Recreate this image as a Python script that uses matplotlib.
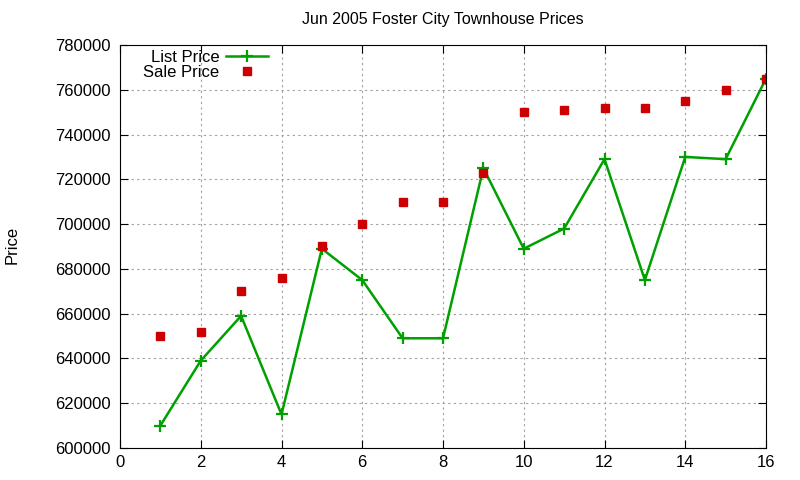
import matplotlib
matplotlib.use("Agg")
from matplotlib import pyplot as plt

plt.rcParams['font.family'] = ['Liberation Sans', 'DejaVu Sans']

# data
house = list(range(1, 17))
list_price = [610000, 639000, 659000, 615000, 689000, 675000, 649000, 649000,
              725000, 689000, 698000, 729000, 675000, 730000, 729000, 765000]
sale_price = [650000, 652000, 670000, 676000, 690000, 700000, 710000, 710000,
              723000, 750000, 751000, 752000, 752000, 755000, 760000, 765000]

fig = plt.figure(figsize=(8, 4.8), dpi=100)
ax = fig.add_axes([0.15, 0.0667, 0.8075, 0.8396])

ax.plot(house, list_price, color="#00a000", lw=1.8, marker="+", ms=8, mew=1.6,
        label="List Price")
ax.plot(house, sale_price, ls="none", marker="s", ms=6, color="#cc0000",
        label="Sale Price")

ax.set_xlim(0, 16)
ax.set_ylim(600000, 780000)
ax.set_xticks(range(0, 17, 2))
ax.set_yticks(range(600000, 780001, 20000))
ax.ticklabel_format(style="plain", useOffset=False)
ax.tick_params(direction="in", top=True, right=True, labelsize=12, length=6)
ax.tick_params(axis="x", pad=5)
ax.tick_params(axis="y", pad=7)
ax.grid(True, color="#a0a0a0", linestyle=(0, (2, 3)), lw=0.8)

ax.set_title("Jun 2005 Foster City Townhouse Prices", fontsize=11.5, pad=15)
fig.text(0.015, 0.49, "Price", rotation=90, va="center", ha="center", fontsize=12)

ax.legend(loc="upper left", bbox_to_anchor=(0.036, 0.988), frameon=False,
          markerfirst=False, fontsize=12, handlelength=2.5, handletextpad=0.4,
          borderaxespad=0, borderpad=0, labelspacing=0)

fig.savefig("out.png", dpi=100)
